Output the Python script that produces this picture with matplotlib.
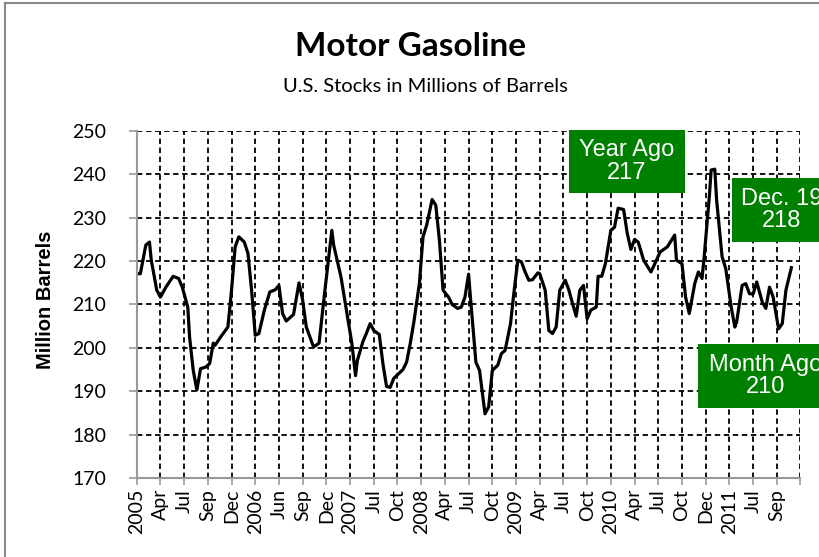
import matplotlib
matplotlib.use('Agg')
import matplotlib.pyplot as plt
from matplotlib.patches import Rectangle
from matplotlib.lines import Line2D

# weekly stocks (week index, million barrels)
weeks = [0, 2, 5, 7, 8, 11, 13, 16, 20, 23, 25, 28, 29, 31, 33, 35, 38, 40, 42, 43,
         46, 50, 52, 54, 56, 59, 61, 63, 65, 67, 70, 73, 76, 78, 80, 82, 86, 89, 91, 93,
         97, 100, 103, 107, 108, 112, 115, 118, 120, 121, 124, 126, 128, 130, 133, 135,
         137, 139, 141, 144, 146, 148, 150, 152, 155, 157, 159, 162, 164, 166, 168, 171,
         173, 176, 178, 180, 182, 183, 186, 188, 191, 193, 195, 198, 200, 202, 205, 207,
         209, 211, 213, 215, 217, 220, 221, 224, 226, 228, 230, 232, 235, 237, 239, 241,
         243, 245, 247, 249, 252, 253, 255, 257, 260, 262, 264, 267, 269, 271, 273, 275,
         278, 282, 285, 287, 291, 295, 296, 299, 301, 303, 306, 308, 310, 311, 314, 315,
         317, 318, 321, 323, 326, 328, 329, 332, 334, 336, 338, 340, 343, 345, 347, 349,
         352, 354, 356, 359]
stocks = [217.1, 217.1, 223.7, 224.4, 220.2, 213.3, 211.7, 214.0, 216.5, 216.0, 214.0,
          209.4, 202.5, 194.8, 190.3, 195.2, 195.6, 196.4, 201.1, 200.6,
          202.5, 204.8, 213.3, 223.3, 225.6, 224.4, 221.8, 213.3, 202.9, 203.3, 208.7,
          212.9, 213.4, 214.4, 207.9, 206.2, 207.7, 215.0, 211.0, 204.8,
          200.2, 201.1, 212.5, 227.1, 223.7, 216.4, 208.7, 201.0, 193.6, 197.1, 201.4,
          203.4, 205.6, 204.0, 203.1, 196.4,
          191.1, 190.9, 193.0, 194.2, 195.0, 196.7, 201.0, 206.0, 214.8, 225.6, 228.3,
          234.2, 232.9, 224.8, 213.3, 211.7,
          210.0, 209.1, 209.4, 211.7, 217.0, 211.7, 196.7, 194.8, 184.8, 186.4, 194.8,
          196.0, 198.7, 199.4, 205.6, 213.3,
          220.2, 219.8, 217.5, 215.6, 215.7, 217.3, 217.1, 213.3, 204.0, 203.3, 204.8,
          213.3, 215.6, 213.3, 210.2, 207.3,
          213.3, 214.4, 206.7, 208.7, 209.4, 216.5, 216.5, 219.4, 227.1, 227.8, 232.2,
          231.9, 226.4, 222.7, 225.0, 224.4,
          220.2, 217.5, 220.2, 222.1, 223.3, 226.0, 220.2, 219.4, 211.7, 207.9, 214.8,
          217.5, 216.0, 220.2, 234.8, 241.0,
          241.2, 234.1, 221.0, 218.3, 209.4, 204.8, 206.0, 214.4, 214.8, 212.5, 212.4,
          215.2, 210.6, 209.1, 214.0, 211.7,
          204.4, 205.6, 213.3, 218.5]

tick_labels = ['2005', 'Apr', 'Jul', 'Sep', 'Dec', '2006', 'Jun', 'Sep', 'Dec', '2007',
               'Jul', 'Oct', '2008', 'Apr', 'Jul', 'Oct', '2009', 'Apr', 'Jul', 'Oct',
               '2010', 'Apr', 'Jul', 'Oct', 'Dec', '2011', 'Jul', 'Sep', '']
yticks = [170, 180, 190, 200, 210, 220, 230, 240, 250]

box_labels = ['Year Ago', 'Dec. 19', 'Month Ago']
box_values = [217, 218, 210]

W, H = 820, 557
fig = plt.figure(figsize=(W / 100, H / 100), dpi=100)
ax = fig.add_axes([136.7 / W, 1 - 478 / H, (800.5 - 136.7) / W, (478 - 131) / H])

ax.plot(weeks, stocks, color='black', lw=2.3, zorder=3)

step = 13
ax.set_xlim(0, step * (len(tick_labels) - 1))
ax.set_ylim(170, 250)
ax.set_xticks([i * step for i in range(len(tick_labels))])
ax.set_xticklabels(tick_labels, rotation=90, family='Lato', fontsize=14)
ax.set_yticks(yticks)
ax.set_yticklabels([str(v) for v in yticks], family='Lato', fontsize=14)
ax.tick_params(axis='y', color='#999999', length=6, width=1.2, pad=16)
ax.tick_params(axis='x', color='#999999', length=5, width=1.2, pad=3)

ax.grid(True, color='black', linestyle=(0, (3, 2)), lw=1.3)
for s in ['top', 'right']:
    ax.spines[s].set_visible(False)
for s in ['left', 'bottom']:
    ax.spines[s].set_color('#999999')
    ax.spines[s].set_linewidth(1.5)
    ax.spines[s].set_zorder(4)

ax.set_ylabel('Million Barrels', family='Liberation Sans', fontweight='bold',
              fontsize=14.5)
ax.yaxis.set_label_coords((55 - 136.7) / (800.5 - 136.7), (478 - 300) / (478 - 131))

fig.text(411 / W, 1 - 47 / H, 'Motor Gasoline', ha='center', va='center',
         family='Lato', fontweight='bold', fontsize=24)
fig.text(425 / W, 1 - 87 / H, 'U.S. Stocks in Millions of Barrels', ha='center',
         va='center', family='Lato', fontsize=14.5)

# green callout boxes (pixel layout)
boxes = [(569, 130, 116, 63), (732, 178, 110, 64), (698, 344, 140, 64)]
centers = [627, 782, 766]
for (bx, by, bw, bh), cx, lab, val in zip(boxes, centers, box_labels, box_values):
    fig.add_artist(Rectangle((bx / W, 1 - (by + bh) / H), bw / W, bh / H,
                             transform=fig.transFigure, facecolor='#008000',
                             edgecolor='none', zorder=5))
    fig.text(cx / W, 1 - (by + bh / 2) / H, lab + '\n' + str(val), ha='center',
             va='center', color='white', family='Liberation Sans', fontsize=17,
             linespacing=1.05, zorder=6)

# chart frame
fig.add_artist(Line2D([5.5 / W, 5.5 / W], [0, 1 - 3 / H], transform=fig.transFigure,
                      color='#888888', lw=1.5))
fig.add_artist(Line2D([5.5 / W, 1], [1 - 3 / H, 1 - 3 / H], transform=fig.transFigure,
                      color='#888888', lw=1.5))

fig.savefig('out.png', dpi=100)
